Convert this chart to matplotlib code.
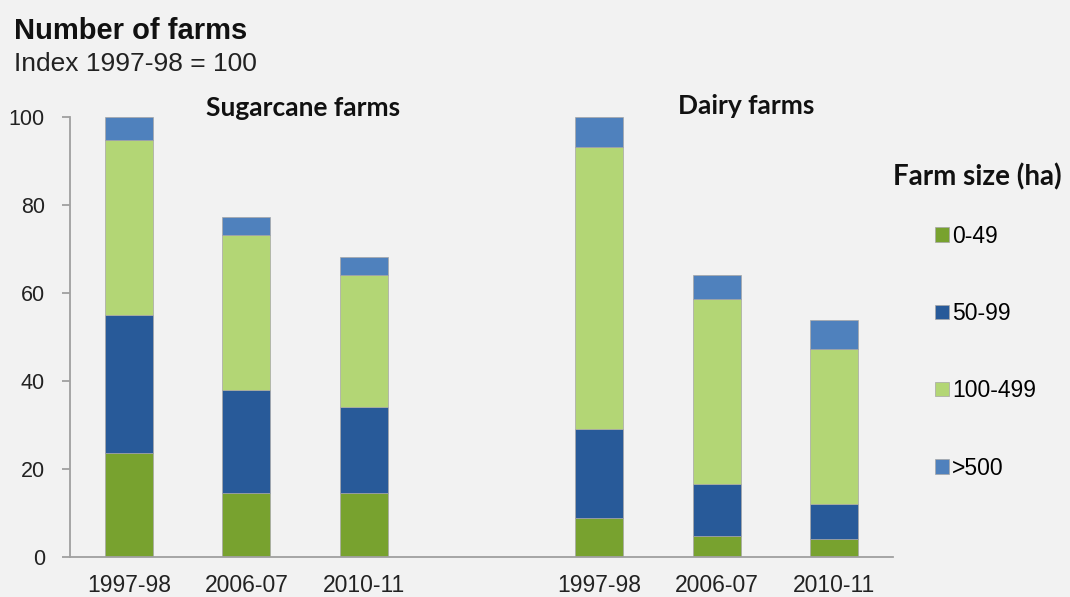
import numpy as np
import matplotlib
matplotlib.use("Agg")
import matplotlib.pyplot as plt

# Data (index, 1997-98 = 100)
groups = ["Sugarcane farms", "Dairy farms"]
years = ["1997-98", "2006-07", "2010-11"]
sizes = ["0-49", "50-99", "100-499", ">500"]

sugar_0_49 = [23.7, 14.5, 14.5]
sugar_50_99 = [31.3, 23.4, 19.7]
sugar_100_499 = [39.7, 35.3, 29.9]
sugar_500 = [5.3, 4.0, 4.0]

dairy_0_49 = [8.8, 4.8, 4.0]
dairy_50_99 = [20.4, 11.9, 8.0]
dairy_100_499 = [64.0, 41.9, 35.3]
dairy_500 = [6.8, 5.6, 6.6]

colors = ["#78A22F", "#285A99", "#B3D675", "#4F81BD"]
bg = "#F2F2F2"

series = [
    sugar_0_49 + dairy_0_49,
    sugar_50_99 + dairy_50_99,
    sugar_100_499 + dairy_100_499,
    sugar_500 + dairy_500,
]
x = np.array([0, 1, 2, 4, 5, 6])
labels = years + years

fig = plt.figure(figsize=(10.7, 5.97), dpi=100, facecolor=bg)
ax = fig.add_axes([0.0654, 0.067, 0.7692, 0.737])
ax.set_facecolor(bg)

bottom = np.zeros(len(x))
for vals, col, name in zip(series, colors, sizes):
    ax.bar(x, vals, width=0.41, bottom=bottom, color=col, edgecolor="#A6A6A6",
           linewidth=0.5, label=name)
    bottom += np.array(vals)

ax.set_xlim(-0.5, 6.5)
ax.set_ylim(0, 100)
ax.set_yticks(range(0, 101, 20))
ax.set_xticks(x)
ax.set_xticklabels(labels)

for s in ["top", "right"]:
    ax.spines[s].set_visible(False)
for s in ["left", "bottom"]:
    ax.spines[s].set_color("#A0A0A0")
    ax.spines[s].set_linewidth(1.3)

ax.tick_params(axis="y", length=6, width=1.3, color="#A0A0A0", pad=12,
               labelsize=15.5, labelcolor="#222222")
ax.tick_params(axis="x", length=0, pad=12, labelsize=16.5, labelcolor="#222222")
for t in ax.get_xticklabels() + ax.get_yticklabels():
    t.set_family("Liberation Sans")

# titles
fig.text(0.013, 0.948, "Number of farms", fontsize=21, fontweight="bold",
         family="Liberation Sans", va="center", color="#111111")
fig.text(0.013, 0.893, "Index 1997-98 = 100", fontsize=19,
         family="Liberation Sans", va="center", color="#222222")

# group headings
ax.text(1.48, 102.0, groups[0], fontsize=19, fontweight="bold", family="Lato",
        ha="center", va="center", color="#111111")
ax.text(5.25, 102.5, groups[1], fontsize=19, fontweight="bold", family="Lato",
        ha="center", va="center", color="#111111")

fig.text(0.835, 0.703, "Farm size (ha)", fontsize=20, fontweight="bold",
         family="Lato", va="center", color="#111111")

leg = ax.legend(loc="upper left", bbox_to_anchor=(0.863, 0.643),
                bbox_transform=fig.transFigure, frameon=False,
                prop={"family": "Liberation Sans", "size": 16.5},
                handlelength=0.6, handleheight=0.6, handletextpad=0.15,
                labelspacing=2.37, borderpad=0)

fig.savefig("out.png", dpi=100, facecolor=bg)
